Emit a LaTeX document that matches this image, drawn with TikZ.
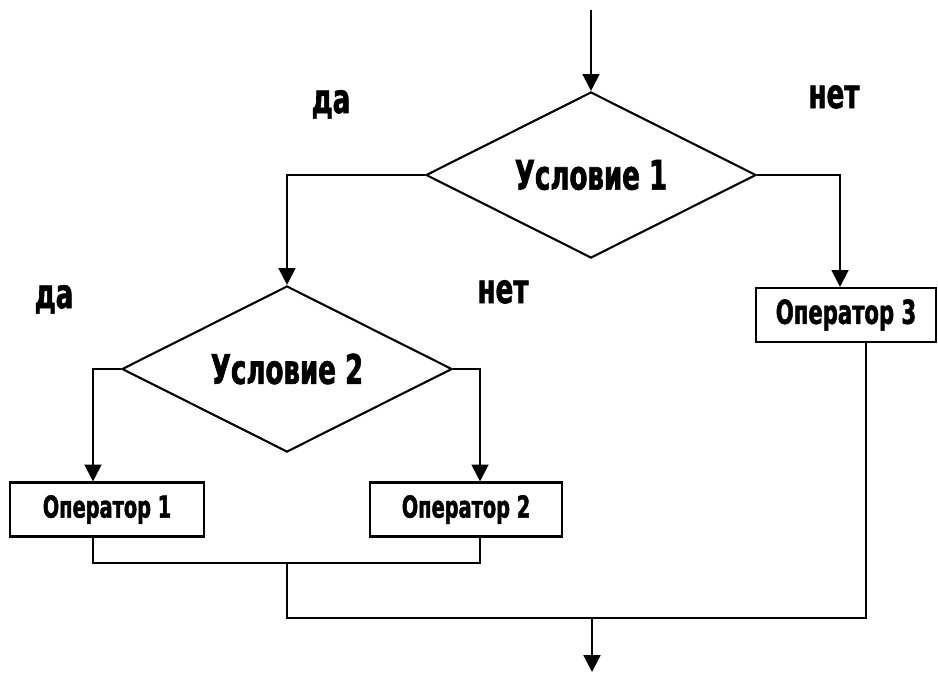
\documentclass[tikz,border=0pt]{standalone}
\usepackage{fontspec}
\setmainfont{DejaVu Sans}[FakeStretch=0.64, BoldFeatures={FakeBold=1.5}]
\usepackage{tikz}
\usetikzlibrary{shapes.geometric,arrows.meta,calc}
\tikzstyle{cond} = [diamond, aspect=2, minimum width=8.25cm, minimum height=4.15cm, inner sep=0pt, text centered, draw=black, line width=1.5pt, font=\bfseries\fontsize{29}{29}\selectfont]
\tikzstyle{oper} = [rectangle, minimum height=1.35cm, text centered, draw=black, line width=1.5pt, font=\bfseries\fontsize{21.5}{21.5}\selectfont]
\tikzstyle{answer} = [anchor=base, inner sep=0pt, font=\bfseries\fontsize{29}{29}\selectfont]
\tikzstyle{arrow} = [line width=1.5pt,->,>={Triangle[length=12pt,width=12pt]}]
\tikzstyle{line} = [line width=1.5pt]

\begin{document}
\begin{tikzpicture}[x=0.025cm, y=-0.025cm]
  \useasboundingbox (0,0) rectangle (938,673);
  \coordinate (in) at (591,10);
  \node (c1)[cond] at (591,175) {Условие 1};
  \node (c2)[cond] at (287,369) {Условие 2};
  \node (op1)[oper, minimum width=4.85cm] at (107,509.5) {Оператор 1};
  \node (op2)[oper, minimum width=4.8cm] at (466,509.5) {Оператор 2};
  \node (op3)[oper, minimum width=4.5cm, font=\bfseries\fontsize{23.5}{23.5}\selectfont] at (846,315) {Оператор 3};
  \coordinate (j1) at (287,563);
  \coordinate (j2) at (287,618);
  \coordinate (out) at (592,672);
  % labels
  \node (yes1)[answer] at (331,113) {да};
  \node (no1)[answer] at (834,108) {нет};
  \node (yes2)[answer] at (54,308) {да};
  \node (no2)[answer] at (503,303) {нет};
  % connectors
  \draw[arrow] (in)--(c1.north);
  \draw[arrow] (c1.west) -| (c2.north);
  \draw[arrow] (c1.east) -| ([xshift=-0.15cm]op3.north);
  \draw[arrow] (c2.west) -| ([xshift=-0.35cm]op1.north);
  \draw[arrow] (c2.east) -| ([xshift=0.35cm]op2.north);
  \draw[line] ([xshift=-0.35cm]op1.south) |- (j1) -| ([xshift=0.35cm]op2.south);
  \draw[line] (j1)--(j2) -| ([xshift=0.5cm]op3.south);
  \draw[arrow] (j2 -| out)--(out);
\end{tikzpicture}
\end{document}
